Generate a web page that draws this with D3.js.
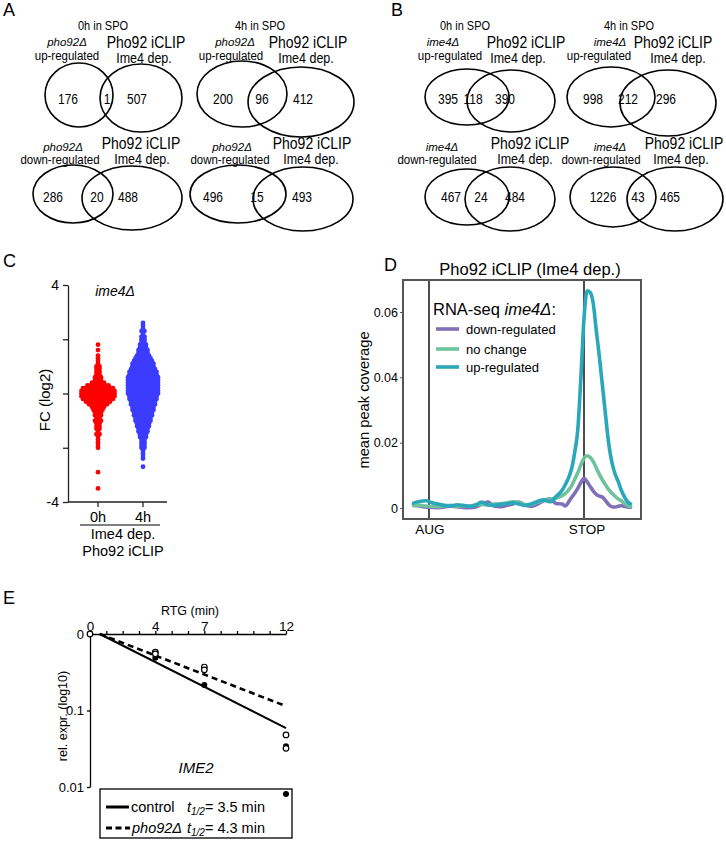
<!DOCTYPE html>
<html><head><meta charset="utf-8">
<script src="https://cdn.jsdelivr.net/npm/d3@7"></script>
<style>
body{margin:0;background:#fff;}
svg{display:block;font-family:"Liberation Sans",Arial,Helvetica,sans-serif;}
</style></head><body>
<svg id="fig" width="726" height="843"></svg>
<script>
// ---------------- DATA ----------------
// Venn diagrams (A: pho92Δ, B: ime4Δ)
const vennTime   = ["0h in SPO","4h in SPO","","","0h in SPO","4h in SPO","",""];
const vennStrain = ["pho92Δ","pho92Δ","pho92Δ","pho92Δ","ime4Δ","ime4Δ","ime4Δ","ime4Δ"];
const vennDir    = ["up-regulated","up-regulated","down-regulated","down-regulated","up-regulated","up-regulated","down-regulated","down-regulated"];
const vennOnlyLeft  = [176,200,286,496,395,998,467,1226];
const vennOverlap   = [1,96,20,15,118,212,24,43];
const vennOnlyRight = [507,412,488,493,390,296,484,465];
const vennSetB = ["Pho92 iCLIP","Ime4 dep."];

// Panel C: FC (log2) rows [value, number of genes in that row]
const fcGroups = ["0h","4h"];
const fc0h = [[1.8,1],[1.6,1],[1.4,1],[1.3,1],[1.2,1],[1.1,1],[1.0,2],[0.9,2],[0.8,2],[0.7,2],[0.6,3],[0.5,3],[0.4,5],[0.3,8],[0.2,11],[0.1,12],[0.0,12],[-0.1,12],[-0.2,11],[-0.3,9],[-0.4,7],[-0.5,5],[-0.6,4],[-0.7,3],[-0.8,3],[-0.9,2],[-1.0,3],[-1.1,2],[-1.2,2],[-1.3,2],[-1.4,1],[-1.5,2],[-1.6,1],[-1.7,1],[-1.8,1],[-1.9,1],[-2.0,1],[-2.9,1],[-3.5,1]];
const fc4h = [[2.6,1],[2.5,1],[2.4,1],[2.3,2],[2.2,1],[2.1,2],[2.0,2],[1.9,2],[1.8,3],[1.7,3],[1.6,4],[1.5,4],[1.4,5],[1.3,6],[1.2,7],[1.1,8],[1.0,8],[0.9,9],[0.8,10],[0.7,10],[0.6,11],[0.5,11],[0.4,11],[0.3,11],[0.2,11],[0.1,11],[0.0,11],[-0.1,10],[-0.2,10],[-0.3,9],[-0.4,9],[-0.5,8],[-0.6,8],[-0.7,7],[-0.8,7],[-0.9,6],[-1.0,6],[-1.1,5],[-1.2,5],[-1.3,4],[-1.4,4],[-1.5,3],[-1.6,3],[-1.7,2],[-1.8,2],[-1.9,2],[-2.0,2],[-2.1,1],[-2.2,1],[-2.3,1],[-2.4,1],[-2.7,1]];
const fcMedians = [0.0, 0.18];
const fcTicks = [-4,-2,0,2,4];

// Panel D: metagene coverage (position: AUG = 0, STOP = 100)
const dPos = [-10,-6,-2,2,6,10,14,18,22,26,30,34,38,42,46,50,54,58,62,66,70,74,78,82,86,88,90,92,94,96,98,100,102,104,106,108,110,112,114,116,118,120,122,124,126,128,130];
const covDown = [.0009,.0006,.0003,.0002,.0001,.0003,.0006,.0004,.0002,.0001,.0003,.0012,.0018,.0006,.0004,.0008,.0012,.0018,.0009,.0005,.0012,.0022,.0028,.0014,.0012,.0006,.0018,.0032,.0045,.006,.0078,.0091,.008,.0066,.0052,.0042,.0036,.0033,.0022,.001,.0004,.0003,.0005,.0007,.0005,.0003,.0002];
const covNoChange = [.0007,.0008,.0006,.0005,.0004,.0006,.0008,.0006,.0007,.0006,.0009,.0011,.0009,.0012,.0013,.0015,.0019,.0017,.001,.0011,.0018,.0024,.0027,.003,.0038,.0045,.0055,.0068,.0088,.0108,.0132,.0152,.016,.0155,.0142,.0122,.0102,.0085,.007,.0056,.0045,.0036,.0028,.0022,.0014,.0008,.0004];
const covUp = [.0015,.002,.0022,.0016,.0012,.0008,.0006,.001,.0008,.0005,.0009,.0018,.001,.0008,.0011,.0013,.0016,.0012,.0008,.0012,.002,.0025,.0019,.0035,.0055,.0072,.0092,.012,.017,.024,.04,.058,.0665,.066,.0625,.054,.046,.037,.028,.0195,.014,.0105,.0082,.0055,.0035,.002,.0013];
const covSeries = ["down-regulated","no change","up-regulated"];
const covTicks = [0,0.02,0.04,0.06];
const covMarks = [[0,"AUG"],[100,"STOP"]];

// Panel E: RTG chase (IME2)
const rtgTicks = [0,4,7,12];
const exprTicks = [1,0.1,0.01];
const controlPoints = [[0,1],[4,0.49],[7,0.215],[12,0.034],[12,0.0081]];
const pho92Points = [[0,1],[4,0.58],[4,0.55],[7,0.37],[7,0.34],[12,0.048],[12,0.032]];
const controlFit = [[0.6,1],[12,0.059]];
const pho92Fit = [[0.6,1],[12,0.114]];
const halfLives = ["3.5","4.3"];

// ---------------- DRAW ----------------
const svg = d3.select("#fig");
svg.append("rect").attr("width",726).attr("height",843).attr("fill","#fff");
const FONT = '"Liberation Sans",Arial,Helvetica,sans-serif';

function panelLabel(t,x,y){
  svg.append("text").attr("x",x).attr("y",y).attr("font-size",18).text(t);
}
panelLabel("A",3,16); panelLabel("B",391,16); panelLabel("C",3,267); panelLabel("D",384,271); panelLabel("E",3,604);

// ---- Venns ----
const vennLayout = [
 {L:[79,95,34,32],R:[141,98,41,34],time:[103,30],strain:[67,46],dir:[67,60],s1:[146,48],s2:[144,63],n:[[68,100],[107,100],[137,100]]},
 {L:[242,94,45,33],R:[301,102,53,35],time:[260,30],strain:[235,46],dir:[231,60],s1:[308,48],s2:[306,63],n:[[223,100],[262,100],[303,100]]},
 {L:[73,194,40,29],R:[132,198,50,32],strain:[63,151],dir:[60,164],s1:[141,149],s2:[142,164],n:[[53,198],[97,198],[128,198]]},
 {L:[238,194,48,29],R:[303,199,50,32],strain:[232,151],dir:[230,164],s1:[312,149],s2:[311,164],n:[[213,198],[257,198],[302,198]]},
 {L:[467,97,42,28],R:[511,101,44,31],time:[465,30],strain:[443,46],dir:[450,60],s1:[526,48],s2:[518,63],n:[[448,100],[473,100],[505,100]]},
 {L:[611,97,44,30],R:[668,103,48,33],time:[629,30],strain:[610,46],dir:[599,60],s1:[673,48],s2:[678,63],n:[[593,100],[628,100],[666,100]]},
 {L:[467,197,42,28],R:[510,199,45,32],strain:[442,151],dir:[437,164],s1:[530,149],s2:[525,164],n:[[451,198],[481,198],[515,198]]},
 {L:[613,197,43,30],R:[675,199,48,32],strain:[610,151],dir:[601,164],s1:[684,149],s2:[681,164],n:[[603,198],[638,198],[670,198]]}
];
function vtext(g,pos,str,size,sy,italic){
  g.append("text").attr("transform",`translate(${pos[0]},${pos[1]}) scale(1,${sy})`)
   .attr("text-anchor","middle").attr("font-size",size)
   .attr("font-style",italic?"italic":"normal").text(str);
}
vennLayout.forEach((lay,i)=>{
  const g = svg.append("g");
  [lay.L,lay.R].forEach(e=>{
    g.append("ellipse").attr("cx",e[0]).attr("cy",e[1]).attr("rx",e[2]).attr("ry",e[3])
     .attr("fill","none").attr("stroke","#000").attr("stroke-width",1.6);
  });
  if(vennTime[i]) vtext(g,lay.time,vennTime[i],11,1.1,false);
  vtext(g,lay.strain,vennStrain[i],11.5,1.0,true);
  vtext(g,lay.dir,vennDir[i],11.5,1.05,false);
  vtext(g,lay.s1,vennSetB[0],14,1.15,false);
  vtext(g,lay.s2,vennSetB[1],12.5,1.12,false);
  const nums=[vennOnlyLeft[i],vennOverlap[i],vennOnlyRight[i]];
  nums.forEach((v,k)=>vtext(g,[lay.n[k][0],lay.n[k][1]+4],String(v),12,1.2,false));
});

// ---- Panel C ----
const yC = d3.scaleLinear().domain([-4,4]).range([502,285]);
const xC = d3.scalePoint().domain(fcGroups).range([98,143]);
const cColors = ["#ff0000","#3c3cff"];
const gC = svg.append("g");
// medians (drawn beneath the dots)
[[18,17],[15,15]].forEach((w,gi)=>{
  gC.append("line").attr("x1",xC(fcGroups[gi])-w[0]).attr("x2",xC(fcGroups[gi])+w[1])
   .attr("y1",yC(fcMedians[gi])).attr("y2",yC(fcMedians[gi]))
   .attr("stroke","#000").attr("stroke-width",2.2);
});
[fc0h,fc4h].forEach((rows,gi)=>{
  const pts=[];
  rows.forEach(([v,n])=>{
    for(let k=0;k<n;k++) pts.push({v, dx:(k-(n-1)/2)*3});
  });
  gC.append("g").selectAll("circle").data(pts).join("circle")
    .attr("cx",d=>xC(fcGroups[gi])+d.dx).attr("cy",d=>yC(d.v)).attr("r",2.4)
    .attr("fill",cColors[gi]);
});
const axC = gC.append("g").attr("transform","translate(68,0)")
  .call(d3.axisLeft(yC).tickValues(fcTicks).tickSize(5).tickSizeOuter(0)
  .tickFormat(d=>(d===4||d===-4)?String(d):""));
axC.selectAll("text").attr("font-size",14).attr("font-family",FONT).attr("dx",-1).attr("fill","#000");
axC.selectAll("line,path").attr("stroke","#222").attr("stroke-width",1.3);
gC.append("line").attr("x1",68).attr("x2",167).attr("y1",502).attr("y2",502).attr("stroke","#222").attr("stroke-width",1.3);
fcGroups.forEach(g=>{
  gC.append("line").attr("x1",xC(g)).attr("x2",xC(g)).attr("y1",502).attr("y2",507).attr("stroke","#222").attr("stroke-width",1.3);
  gC.append("text").attr("x",xC(g)).attr("y",522).attr("text-anchor","middle").attr("font-size",14.5).text(g);
});
gC.append("line").attr("x1",80).attr("x2",160).attr("y1",525).attr("y2",525).attr("stroke","#000").attr("stroke-width",1.2);
gC.append("text").attr("x",123).attr("y",539).attr("text-anchor","middle").attr("font-size",14.5).text("Ime4 dep.");
gC.append("text").attr("x",123).attr("y",556).attr("text-anchor","middle").attr("font-size",14.5).text("Pho92 iCLIP");
gC.append("text").attr("x",115).attr("y",296).attr("text-anchor","middle").attr("font-size",14).attr("font-style","italic").text("ime4Δ");
gC.append("text").attr("transform","translate(50,400) rotate(-90)").attr("text-anchor","middle").attr("font-size",15).text("FC (log2)");

// ---- Panel D ----
const xD = d3.scaleLinear().domain([0,100]).range([429,584]);
const yD = d3.scaleLinear().domain([0,0.06]).range([508,312]);
const gD = svg.append("g");
const dColors = ["#8070b8","#6fc39c","#2aa7b9"];
gD.append("text").attr("x",530).attr("y",275).attr("text-anchor","middle").attr("font-size",16.5).text("Pho92 iCLIP (Ime4 dep.)");
covMarks.forEach(([p,l])=>{
  gD.append("line").attr("x1",xD(p)).attr("x2",xD(p)).attr("y1",280).attr("y2",519).attr("stroke","#000").attr("stroke-width",1.4);
  gD.append("text").attr("x",xD(p)+ (l==="STOP"?3:1)).attr("y",534).attr("text-anchor","middle").attr("font-size",13.5).text(l);
});
const lineD = d3.line().x((d,i)=>xD(dPos[i])).y(d=>yD(d)).curve(d3.curveMonotoneX);
[covDown,covNoChange,covUp].forEach((s,i)=>{
  gD.append("path").attr("d",lineD(s)).attr("fill","none").attr("stroke",dColors[i])
   .attr("stroke-width",3.6).attr("stroke-linejoin","round").attr("stroke-linecap","round");
});
gD.append("rect").attr("x",403).attr("y",280).attr("width",238).attr("height",239)
  .attr("fill","none").attr("stroke","#555").attr("stroke-width",2);
const axD = gD.append("g").attr("transform","translate(403,0)")
  .call(d3.axisLeft(yD).tickValues(covTicks).tickSize(3).tickFormat(d=>d===0?"0":d3.format(".2f")(d)));
axD.select(".domain").remove();
axD.selectAll("line").attr("stroke","#555");
axD.selectAll("text").attr("font-size",12.5).attr("font-family",FONT).attr("fill","#000").attr("dx",1);
gD.append("text").attr("transform","translate(369,400) rotate(-90)").attr("text-anchor","middle").attr("font-size",14.7).text("mean peak coverage");
// legend
const lt = gD.append("text").attr("x",433).attr("y",315).attr("font-size",16.5);
lt.append("tspan").text("RNA-seq ");
lt.append("tspan").attr("font-style","italic").text("ime4Δ");
lt.append("tspan").text(":");
[329,349,367].forEach((y,i)=>{
  gD.append("line").attr("x1",436).attr("x2",459).attr("y1",y).attr("y2",y).attr("stroke",dColors[i]).attr("stroke-width",3.6);
  gD.append("text").attr("x",466).attr("y",y+4.5).attr("font-size",13).text(covSeries[i]);
});

// ---- Panel E ----
const xE = d3.scaleLinear().domain([0,12]).range([90,286]);
const yE = d3.scaleLog().domain([1,0.01]).range([634,787]);
const gE = svg.append("g");
const axEx = gE.append("g").attr("transform","translate(0,634)")
  .call(d3.axisTop(xE).tickValues(d3.range(0,13)).tickSize(3).tickSizeOuter(0)
  .tickFormat(d=>rtgTicks.includes(d)?String(d):""));
axEx.selectAll("line,path").attr("stroke","#000").attr("stroke-width",1.3);
axEx.selectAll("text").attr("font-size",13.5).attr("font-family",FONT).attr("fill","#000").attr("y",-3);
const axEy = gE.append("g").attr("transform","translate(90,0)")
  .call(d3.axisLeft(yE).tickValues(exprTicks).tickSize(3).tickSizeOuter(0)
  .tickFormat(d=>d===1?"0":String(d)));
axEy.selectAll("line,path").attr("stroke","#000").attr("stroke-width",1.3);
axEy.selectAll("text").attr("font-size",13).attr("font-family",FONT).attr("fill","#000");
gE.append("text").attr("x",190).attr("y",615).attr("text-anchor","middle").attr("font-size",12.5).text("RTG (min)");
gE.append("text").attr("transform","translate(67,716) rotate(-90)").attr("text-anchor","middle").attr("font-size",12.5).text("rel. expr. (log10)");
gE.append("text").attr("x",196).attr("y",773).attr("text-anchor","middle").attr("font-size",15).attr("font-style","italic").text("IME2");
const lineE = d3.line().x(d=>xE(d[0])).y(d=>yE(d[1]));
gE.append("path").attr("d",lineE(controlFit)).attr("stroke","#000").attr("stroke-width",2).attr("fill","none");
gE.append("path").attr("d",lineE(pho92Fit)).attr("stroke","#000").attr("stroke-width",2.6).attr("stroke-dasharray","6,4").attr("fill","none");
gE.selectAll(".pc").data(controlPoints).join("circle").attr("class","pc")
  .attr("cx",d=>xE(d[0])).attr("cy",d=>yE(d[1])).attr("r",3).attr("fill","#000");
gE.selectAll(".pp").data(pho92Points).join("circle").attr("class","pp")
  .attr("cx",d=>xE(d[0])).attr("cy",d=>yE(d[1])).attr("r",2.8).attr("fill","#fff").attr("stroke","#000").attr("stroke-width",1.2);
// legend
gE.append("rect").attr("x",100).attr("y",789).attr("width",192).attr("height",49).attr("fill","none").attr("stroke","#000").attr("stroke-width",1.3);
gE.append("line").attr("x1",106).attr("x2",129).attr("y1",807).attr("y2",807).attr("stroke","#000").attr("stroke-width",3);
gE.append("line").attr("x1",106).attr("x2",130).attr("y1",828).attr("y2",828).attr("stroke","#000").attr("stroke-width",3).attr("stroke-dasharray","6,3.5");
gE.append("text").attr("x",131).attr("y",812).attr("font-size",14.5).text("control");
gE.append("text").attr("x",132).attr("y",833).attr("font-size",14.5).attr("font-style","italic").text("pho92Δ");
[812,833].forEach((y,i)=>{
  const t = gE.append("text").attr("x",187).attr("y",y).attr("font-size",14.5);
  t.append("tspan").attr("font-style","italic").text("t");
  t.append("tspan").attr("font-style","italic").attr("font-size",10).attr("dy",3).text("1/2");
  t.append("tspan").attr("dy",-3).text("= "+halfLives[i]+" min");
});
</script></body></html>
